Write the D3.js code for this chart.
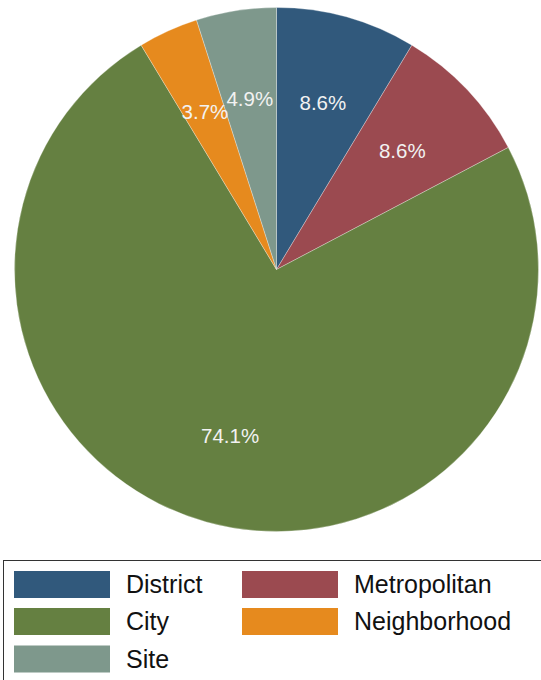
<!DOCTYPE html>
<html>
<head>
<meta charset="utf-8">
<script src="https://cdn.jsdelivr.net/npm/d3@7"></script>
<style>
  body { margin: 0; background: #fff; }
  svg { display: block; font-family: "Liberation Sans", Arial, sans-serif; }
</style>
</head>
<body>
<div id="chart"></div>
<script>
// counts per planning scale, clockwise from 12 o'clock
var categories = ["District", "Metropolitan", "City", "Neighborhood", "Site"];
var counts = [7, 7, 60, 3, 4];
var colors = ["#31597c", "#9b4a50", "#658041", "#e68a1e", "#7e988c"];
// legend reads row by row, two columns
var legendOrder = ["District", "Metropolitan", "City", "Neighborhood", "Site"];

var W = 541, H = 680;
var cx = 276.5, cy = 269.5, R = 262;

var svg = d3.select("#chart").append("svg")
    .attr("width", W).attr("height", H);

var color = d3.scaleOrdinal().domain(categories).range(colors);
var total = d3.sum(counts);

var pie = d3.pie().sort(null).value(function(d) { return d.v; });
var arcs = pie(categories.map(function(c, i) { return {k: c, v: counts[i]}; }));

var arc = d3.arc().innerRadius(0).outerRadius(R);
var labelArc = d3.arc().innerRadius(R * 0.66).outerRadius(R * 0.66);

var g = svg.append("g").attr("transform", "translate(" + cx + "," + cy + ")");

g.selectAll("path.slice").data(arcs).enter().append("path")
    .attr("class", "slice")
    .attr("d", arc)
    .attr("fill", function(d) { return color(d.data.k); })
    .attr("stroke", "#ffffff")
    .attr("stroke-width", 0.3);

g.selectAll("text.lbl").data(arcs).enter().append("text")
    .attr("class", "lbl")
    .attr("transform", function(d) { return "translate(" + labelArc.centroid(d) + ")"; })
    .attr("text-anchor", "middle")
    .attr("dy", "0.35em")
    .attr("font-size", 20.5)
    .attr("fill", "#f2f2f2")
    .text(function(d) { return (d.data.v / total * 100).toFixed(1) + "%"; });

// legend
var lg = svg.append("g");
lg.append("rect")
    .attr("x", 3.5).attr("y", 560.5)
    .attr("width", W + 10).attr("height", 140)
    .attr("fill", "#fff").attr("stroke", "#333").attr("stroke-width", 1);

var colX = [14, 242], rowY = [571, 608, 645.5];
var items = lg.selectAll("g.item").data(legendOrder).enter().append("g")
    .attr("class", "item")
    .attr("transform", function(d, i) {
      return "translate(" + colX[i % 2] + "," + rowY[Math.floor(i / 2)] + ")";
    });
items.append("rect")
    .attr("width", 96).attr("height", 27)
    .attr("fill", function(d) { return color(d); });
items.append("text")
    .attr("x", 112).attr("y", 13.5).attr("dy", "0.35em")
    .attr("font-size", 25).attr("fill", "#111")
    .text(function(d) { return d; });
</script>
</body>
</html>
